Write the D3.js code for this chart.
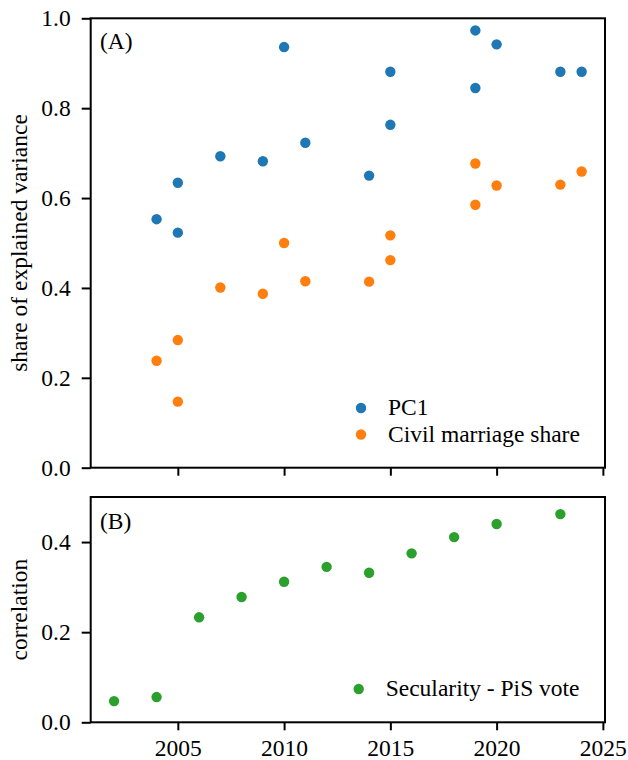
<!DOCTYPE html>
<meta charset="utf-8">
<script src="https://d3js.org/d3.v7.min.js"></script>
<style>
  body { margin: 0; background: #fff; }
</style>
<div id="chart"></div>
<script>
// data
var yearsA = [2004, 2005, 2005, 2007, 2009, 2010, 2011, 2014, 2015, 2015, 2019, 2019, 2020, 2023, 2024];
var pc1 = [0.553, 0.634, 0.523, 0.693, 0.682, 0.936, 0.723, 0.650, 0.881, 0.763, 0.973, 0.845, 0.942, 0.881, 0.881];
var civil = [0.238, 0.284, 0.147, 0.401, 0.387, 0.500, 0.415, 0.414, 0.517, 0.462, 0.677, 0.585, 0.628, 0.630, 0.659];
var yearsB = [2002, 2004, 2006, 2008, 2010, 2012, 2014, 2016, 2018, 2020, 2023];
var corr = [0.047, 0.056, 0.233, 0.278, 0.312, 0.345, 0.332, 0.375, 0.411, 0.440, 0.462];
var xTicks = [2005, 2010, 2015, 2020, 2025];
var yTicksA = [0, 0.2, 0.4, 0.6, 0.8, 1.0];
var yTicksB = [0, 0.2, 0.4];

var W = 628, H = 760, fs = 23.5;
var font = "Liberation Serif";
var left = 90.7, right = 605;
var topA = 18.3, botA = 467.7, topB = 497, botB = 722.3;

var svg = d3.select("#chart").append("svg")
  .attr("width", W).attr("height", H)
  .attr("font-family", font);

var x = d3.scaleLinear().domain([2000.9, 2025.1]).range([left, right]);
var yA = d3.scaleLinear().domain([0, 1]).range([botA, topA]);
var yB = d3.scaleLinear().domain([0, 0.5]).range([botB, topB]);

function styleAxis(g) {
  g.attr("font-family", font).attr("font-size", fs);
  g.select(".domain").remove();
  g.selectAll(".tick line").attr("stroke", "#000").attr("stroke-width", 2);
  g.selectAll(".tick text").attr("fill", "#000");
}

function panel(y, top, bot, yTicks, showX) {
  svg.append("g")
    .attr("transform", "translate(0," + bot + ")")
    .call(d3.axisBottom(x).tickValues(xTicks).tickSize(8).tickPadding(9)
      .tickFormat(showX ? d3.format("d") : ""))
    .call(styleAxis);
  svg.append("g")
    .attr("transform", "translate(" + left + ",0)")
    .call(d3.axisLeft(y).tickValues(yTicks).tickSize(9).tickPadding(11).tickFormat(d3.format(".1f")))
    .call(styleAxis);
  svg.append("rect")
    .attr("x", left).attr("y", top)
    .attr("width", right - left).attr("height", bot - top)
    .attr("fill", "none").attr("stroke", "#000").attr("stroke-width", 2);
}

panel(yA, topA, botA, yTicksA, false);
panel(yB, topB, botB, yTicksB, true);

var blue = "#1f77b4", orange = "#ff7f0e", green = "#2ca02c";
var r = 5.2;

function dots(xs, ys, y, color) {
  svg.append("g").selectAll("circle")
    .data(xs.map(function(d, i) { return [d, ys[i]]; }))
    .enter().append("circle")
      .attr("cx", function(d) { return x(d[0]); })
      .attr("cy", function(d) { return y(d[1]); })
      .attr("r", r)
      .attr("fill", color);
}

dots(yearsA, pc1, yA, blue);
dots(yearsA, civil, yA, orange);
dots(yearsB, corr, yB, green);

function label(sel) {
  return sel.attr("font-family", font).attr("font-size", fs).attr("fill", "#000");
}

// panel labels
svg.append("text").attr("x", 100).attr("y", 49).call(label).text("(A)");
svg.append("text").attr("x", 100).attr("y", 529).call(label).text("(B)");

// y axis labels
svg.append("text")
  .attr("transform", "translate(27," + (topA + botA) / 2 + ") rotate(-90)")
  .attr("text-anchor", "middle").call(label)
  .text("share of explained variance");
svg.append("text")
  .attr("transform", "translate(27," + (topB + botB) / 2 + ") rotate(-90)")
  .attr("text-anchor", "middle").call(label)
  .text("correlation");

// legends
function legendItem(cx, cy, color, text) {
  svg.append("circle").attr("cx", cx).attr("cy", cy).attr("r", r).attr("fill", color);
  svg.append("text").attr("x", cx + 27).attr("y", cy + 7).call(label).text(text);
}
legendItem(361, 408, blue, "PC1");
legendItem(361, 434.5, orange, "Civil marriage share");
legendItem(358.7, 689, green, "Secularity - PiS vote");
</script>
